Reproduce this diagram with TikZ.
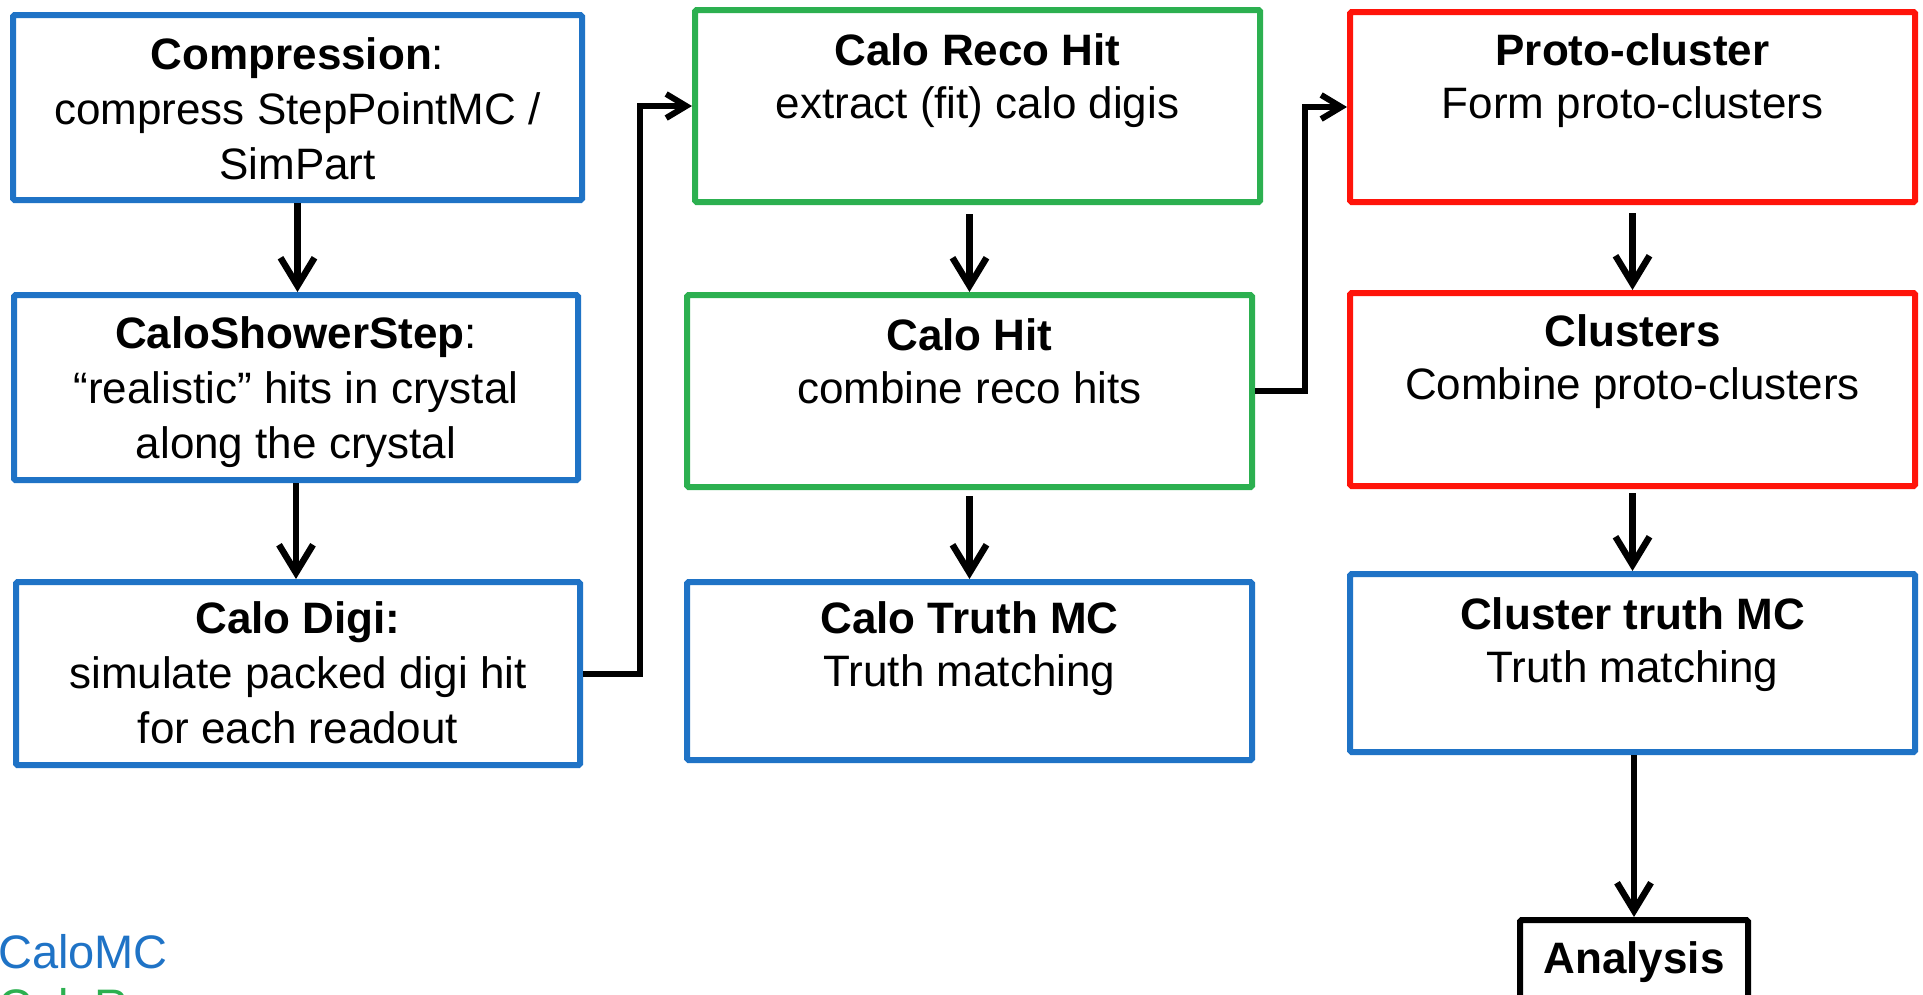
\documentclass[tikz,border=0pt]{standalone}
\usepackage{fontspec}
\setmainfont{Liberation Sans}
\usetikzlibrary{arrows.meta,calc}
\definecolor{mcblue}{RGB}{31,115,198}
\definecolor{recogreen}{RGB}{44,176,80}
\definecolor{clred}{RGB}{255,20,10}
\begin{document}
\begin{tikzpicture}[x=1pt,y=-1pt,
  box/.style={draw=#1,line width=6pt,rounded corners=1.5pt,inner sep=0pt,rectangle},
  txt/.style={anchor=base,align=center,inner sep=0pt,font=\fontsize{44}{55}\selectfont},
  txtb/.style={txt,font=\fontsize{44}{53}\selectfont},
  arr/.style={line width=6.5pt,-{Straight Barb[length=28pt,width=34pt]}},
  harr/.style={line width=6pt,line join=miter,-{Straight Barb[length=20pt,width=24pt]}},
  legend/.style={anchor=base west,inner sep=0pt,font=\fontsize{47}{47}\selectfont}]
\useasboundingbox (0,0) rectangle (1923,994);
\fill[white] (0,0) rectangle (1923,994);

% column 1
\node[box=mcblue,minimum width=569pt,minimum height=185pt] (comp) at (297.5,107.5) {};
\node[box=mcblue,minimum width=564pt,minimum height=185pt] (shower) at (296,387.5) {};
\node[box=mcblue,minimum width=564pt,minimum height=183pt] (digi) at (298,673.5) {};
% column 2
\node[box=recogreen,minimum width=565pt,minimum height=192pt] (reco) at (977.5,106) {};
\node[box=recogreen,minimum width=565pt,minimum height=192pt] (hit) at (969.5,391) {};
\node[box=mcblue,minimum width=565pt,minimum height=178pt] (truth) at (969.5,671) {};
% column 3
\node[box=clred,minimum width=565pt,minimum height=190pt] (proto) at (1632.5,107) {};
\node[box=clred,minimum width=565pt,minimum height=193pt] (clusters) at (1632.5,389.5) {};
\node[box=mcblue,minimum width=565pt,minimum height=178pt] (ctruth) at (1632.5,663) {};
\node[box=black,minimum width=228pt,minimum height=90pt] (analysis) at (1634,965) {};

% texts (anchor = baseline of the last line)
\node[txt] (tcomp) at (297.5,179) {\textbf{Compression}:\\compress StepPointMC /\\SimPart};
\node[txt] (tshower) at (296,458) {\textbf{CaloShowerStep}:\\``realistic'' hits in crystal\\along the crystal};
\node[txt] (tdigi) at (298,743) {\textbf{Calo Digi:}\\simulate packed digi hit\\for each readout};
\node[txtb] (treco) at (977.5,118) {\textbf{Calo Reco Hit}\\extract (fit) calo digis};
\node[txtb] (thit) at (969.5,403) {\textbf{Calo Hit}\\combine reco hits};
\node[txtb] (ttruth) at (969.5,686) {\textbf{Calo Truth MC}\\Truth matching};
\node[txtb] (tproto) at (1632.5,118) {\textbf{Proto-cluster}\\Form proto-clusters};
\node[txtb] (tclusters) at (1632.5,399) {\textbf{Clusters}\\Combine proto-clusters};
\node[txtb] (tctruth) at (1632.5,682) {\textbf{Cluster truth MC}\\Truth matching};
\node[txt] (tanalysis) at (1634,973) {\textbf{Analysis}};

% legend
\node[legend,text=mcblue] (lmc) at (-2,968) {CaloMC};
\node[legend,text=recogreen] (lreco) at (-2,1022) {CaloReco};

% vertical arrows
\draw[arr] (comp.south) -- (comp.south |- shower.north);
\draw[arr] (shower.south) -- (shower.south |- digi.north);
\path (reco.south -| hit.north) ++(0,9) coordinate (rh);
\draw[arr] (rh) -- (hit.north);
\path (hit.south) ++(0,6) coordinate (ht);
\draw[arr] (ht) -- (truth.north);
\path (proto.south) ++(0,8) coordinate (pc);
\draw[arr] (pc) -- (clusters.north);
\path (clusters.south) ++(0,4) coordinate (cc);
\draw[arr] (cc) -- (ctruth.north);
\draw[arr] (ctruth.south -| analysis.north) -- (analysis.north);

% elbow connectors
\draw[harr] (digi.east) -- ++(57,0) |- (reco.west);
\draw[harr] (hit.east) -- ++(50,0) |- (proto.west);
\end{tikzpicture}
\end{document}
